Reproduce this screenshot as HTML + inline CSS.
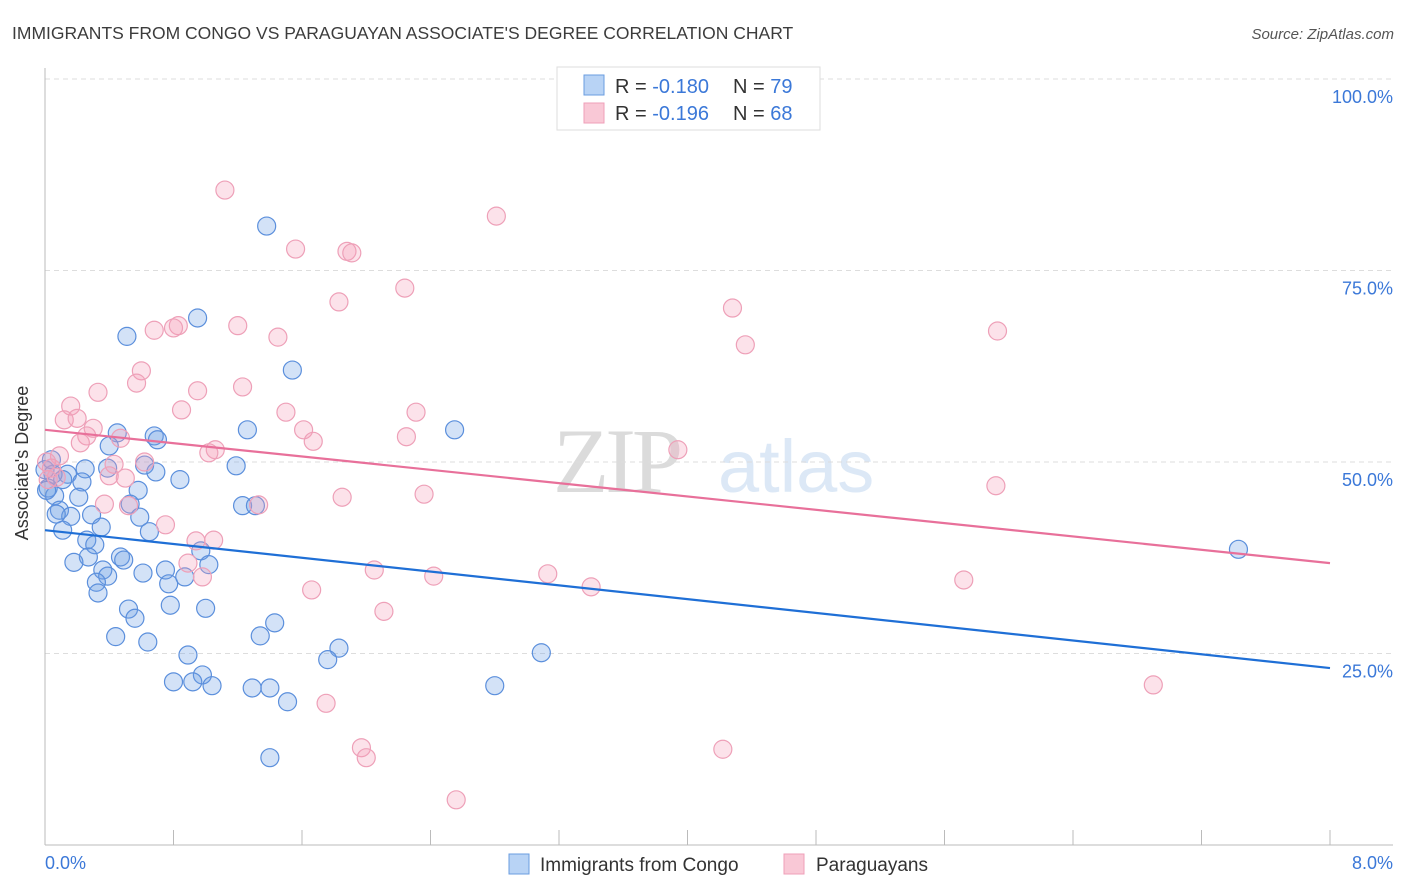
<!DOCTYPE html>
<html><head><meta charset="utf-8"><style>
body{margin:0;background:#fff;font-family:"Liberation Sans",sans-serif;}
svg{display:block}
</style></head><body>
<svg id="chart" width="1406" height="892" xmlns="http://www.w3.org/2000/svg">
<text x="12" y="39" font-size="17.5" fill="#3c3c3c">IMMIGRANTS FROM CONGO VS PARAGUAYAN ASSOCIATE'S DEGREE CORRELATION CHART</text>
<text x="1394" y="39" font-size="15" font-style="italic" fill="#555" text-anchor="end">Source: ZipAtlas.com</text>
<g opacity="0.35">
<text x="553" y="492" font-size="92" font-family="Liberation Serif,serif" fill="#9a9a9a" letter-spacing="-4">ZIP</text>
<text x="718" y="492" font-size="74" fill="#9cc0e8">atlas</text>
</g>
<g id="grid"></g>
<g id="axes"></g>
<g id="pts"></g>
<g id="trend"></g>
<text x="20" y="455" font-size="18" fill="#333" text-anchor="middle" transform="rotate(-90 28 455)">Associate's Degree</text>
<text x="45" y="869" font-size="18" fill="#3b78d8">0.0%</text>
<text x="1393" y="869" font-size="18" fill="#3b78d8" text-anchor="end">8.0%</text>
<g>
<rect x="557" y="67" width="263" height="63" fill="#fff" stroke="#ddd"/>
<rect x="584" y="75" width="20" height="20" fill="#b8d3f5" stroke="#6a9ce0"/>
<rect x="584" y="103" width="20" height="20" fill="#f9c8d6" stroke="#ef9fb8"/>
<text x="615" y="93" font-size="20" fill="#333">R = <tspan fill="#3b78d8">-0.180</tspan><tspan x="733">N = </tspan><tspan fill="#3b78d8">79</tspan></text>
<text x="615" y="120" font-size="20" fill="#333">R = <tspan fill="#3b78d8"> -0.196</tspan><tspan x="733">N = </tspan><tspan fill="#3b78d8">68</tspan></text>
</g>
<g>
<rect x="509" y="854" width="20" height="20" fill="#b8d3f5" stroke="#6a9ce0"/>
<text x="540" y="871" font-size="19" fill="#333">Immigrants from Congo</text>
<rect x="784" y="854" width="20" height="20" fill="#f9c8d6" stroke="#ef9fb8"/>
<text x="816" y="871" font-size="19" fill="#333">Paraguayans</text>
</g>
</svg>
<script>
const yTicks=[25,50,75,100];
const yTickLabels=["25.0%","50.0%","75.0%","100.0%"];
const xTicks=[0,0.8,1.6,2.4,3.2,4,4.8,5.6,6.4,7.2,8];
const congoX=[1.38,0.95,0.51,1.54,2.55,0.45,0.68,0.70,1.26,0.40,1.19,0.62,0.69,0.39,0.25,0.14,0.05,0.84,0.23,0.02,0.21,0.06,0.58,0.53,1.23,1.31,0.09,0.29,0.16,0.07,0.59,0.35,0.11,0.65,0.26,0.31,0.47,0.49,0.97,0.27,0.18,0.36,1.02,0.61,0.75,0.87,0.39,0.77,0.32,0.33,0.78,0.52,1.00,0.56,1.43,0.44,1.34,0.64,1.83,1.76,0.89,0.98,0.80,0.92,1.04,1.29,1.40,1.51,2.80,3.09,7.43,1.40,0.01,0.0,0.04,0.11];
const congoY=[80.8,68.8,66.4,62.0,54.2,53.8,53.4,52.9,54.2,52.1,49.5,49.6,48.7,49.2,49.1,48.4,48.4,47.7,47.4,46.6,45.4,45.6,46.3,44.5,44.3,44.3,43.7,43.1,42.9,43.2,42.8,41.5,41.1,40.9,39.8,39.2,37.6,37.2,38.4,37.6,36.9,35.9,36.6,35.5,35.9,35.0,35.1,34.1,34.3,32.9,31.3,30.8,30.9,29.6,29.0,27.2,27.3,26.5,25.7,24.2,24.8,22.2,21.3,21.3,20.8,20.5,20.5,18.7,20.8,25.1,38.6,11.4,46.3,49.0,50.3,47.7];
const paraX=[1.12,2.81,1.56,1.88,1.91,2.24,1.83,4.28,0.83,0.68,0.80,1.20,1.45,5.93,4.36,0.60,0.57,1.23,0.33,0.95,0.16,0.85,1.50,2.31,0.12,0.20,0.30,1.61,0.47,0.26,0.22,1.67,2.25,1.06,1.02,3.94,0.62,0.43,0.09,0.01,0.04,0.40,0.07,0.50,0.02,2.36,5.92,1.85,1.33,0.37,0.52,0.75,0.94,1.05,0.89,0.98,2.05,2.42,3.13,3.40,1.66,5.72,2.11,1.75,6.90,1.97,2.00,4.22,2.56];
const paraY=[85.5,82.1,77.8,77.5,77.3,72.7,70.9,70.1,67.8,67.2,67.5,67.8,66.3,67.1,65.3,61.9,60.3,59.8,59.1,59.3,57.3,56.8,56.5,56.5,55.5,55.7,54.4,54.2,53.1,53.4,52.5,52.7,53.3,51.6,51.2,51.6,50.0,49.7,50.8,50.0,49.2,48.2,48.0,47.9,47.7,45.8,46.9,45.4,44.4,44.5,44.3,41.8,39.7,39.8,36.8,35.0,35.9,35.1,35.4,33.7,33.3,34.6,30.5,18.5,20.9,12.7,11.4,12.5,5.9];
const congoTrend=[41.1,23.1];
const paraTrend=[54.2,36.8];
const trendX=[0,8];
const X0=45,X1=1330,Y0=845,YSPAN=766;
function sx(v){return X0+(X1-X0)*v/8;}
function sy(v){return Y0-YSPAN*v/100;}
const NS="http://www.w3.org/2000/svg";
function mk(tag,attrs,parent){const e=document.createElementNS(NS,tag);for(const k in attrs)e.setAttribute(k,attrs[k]);parent.appendChild(e);return e;}
const grid=document.getElementById('grid'),axes=document.getElementById('axes'),pts=document.getElementById('pts'),trend=document.getElementById('trend');
yTicks.forEach((t,i)=>{
 const l=mk('line',{x1:45,x2:1393,y1:sy(t),y2:sy(t),stroke:'#ddd','stroke-dasharray':'5,4'},grid);
 
 
 const tx=mk('text',{x:1393,y:sy(t)+24,'font-size':18,fill:'#3b78d8','text-anchor':'end'},grid);
 tx.textContent=yTickLabels[i];
 
 
});
const ya=mk('line',{x1:45,x2:45,y1:68,y2:845,stroke:'#bbb'},axes);


const xa=mk('line',{x1:45,x2:1393,y1:845,y2:845,stroke:'#bbb'},axes);


xTicks.forEach(t=>{
 const l=mk('line',{x1:sx(t),x2:sx(t),y1:830,y2:845,stroke:'#bbb'},axes);
 
 
});
congoX.forEach((x,i)=>{
 const c=mk('circle',{cx:sx(x),cy:sy(congoY[i]),r:9,fill:'rgba(110,160,230,0.3)',stroke:'#5b8fdc','stroke-width':1.2},pts);
 
 
});
paraX.forEach((x,i)=>{
 const c=mk('circle',{cx:sx(x),cy:sy(paraY[i]),r:9,fill:'rgba(245,160,185,0.3)',stroke:'#eea0b8','stroke-width':1.2},pts);
 
 
});
const bl=mk('line',{x1:sx(trendX[0]),y1:sy(congoTrend[0]),x2:sx(trendX[1]),y2:sy(congoTrend[1]),stroke:'#1f6fd6','stroke-width':2.2},trend);


const pl=mk('line',{x1:sx(trendX[0]),y1:sy(paraTrend[0]),x2:sx(trendX[1]),y2:sy(paraTrend[1]),stroke:'#e8709a','stroke-width':2.2},trend);


</script>
</body></html>
